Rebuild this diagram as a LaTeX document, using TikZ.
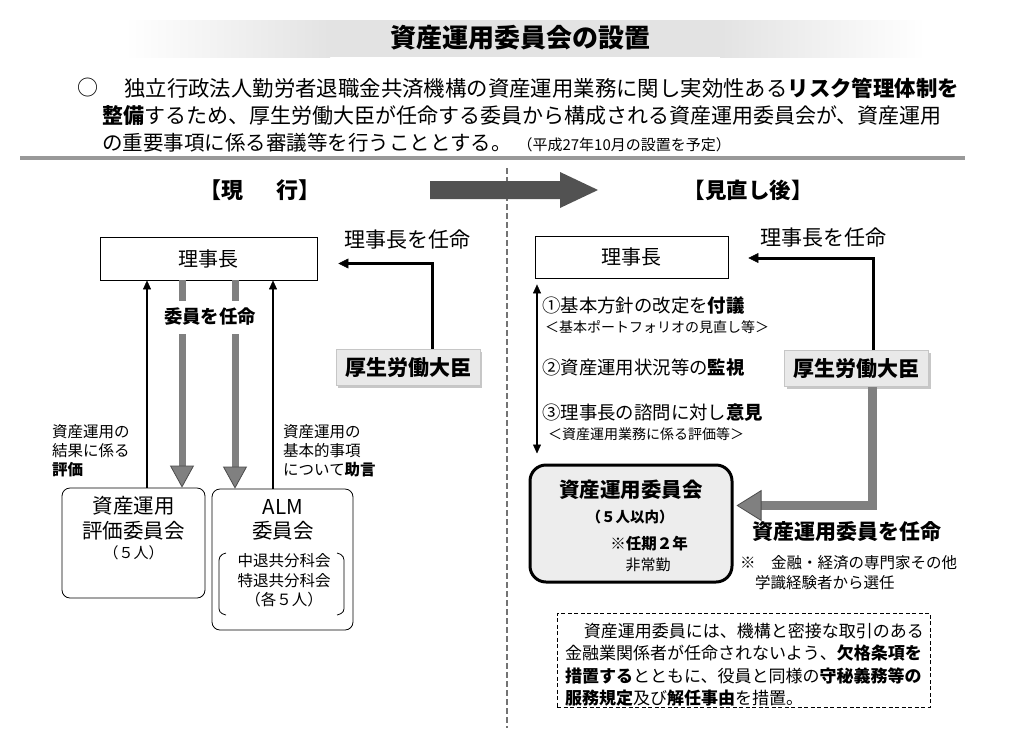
\documentclass[tikz,border=0pt]{standalone}
\usepackage{fontspec}
\setmainfont{Noto Sans CJK JP}
\usetikzlibrary{arrows.meta,shadows,calc}
\newcommand\fsz[2]{\fontsize{#1}{#2}\selectfont}
\begin{document}
\begin{tikzpicture}[x=1pt,y=-1pt,
  txt/.style={inner sep=0pt},
  plainbox/.style={draw, line width=0.8pt, inner sep=0pt},
  rbox/.style={draw, line width=0.8pt, rounded corners=8pt, inner sep=0pt},
  mhlw/.style={draw=gray!45, fill=gray!17, line width=0.6pt, minimum width=144pt, minimum height=36pt, inner sep=0pt, font=\fsz{21}{24}\bfseries, drop shadow={shadow xshift=2pt, shadow yshift=-2pt, fill=gray!55, opacity=0.8}},
  commbox/.style={draw, line width=3pt, rounded corners=16pt, fill=gray!14, inner sep=0pt},
  notebox/.style={draw, line width=1pt, dash pattern=on 4pt off 2.5pt, inner sep=0pt},
  fatarrow/.style={line width=7pt, draw=black!50, -{Triangle[length=22pt,width=24pt,line width=0.8pt, fill=black!50, color=black!70]}},
  fatarrowB/.style={line width=9pt, draw=black!50, -{Triangle[length=25pt,width=31pt,line width=0.8pt, fill=black!50, color=black!70]}},
  apparrow/.style={line width=3pt, -{Triangle[length=10pt,width=10pt,line width=0.5pt]}},
  uparrow/.style={line width=1.8pt, -{Triangle[length=9pt,width=8pt,line width=0.5pt]}},
  dblarrow/.style={line width=1.8pt, {Triangle[length=9pt,width=8pt,line width=0.5pt]}-{Triangle[length=9pt,width=8pt,line width=0.5pt]}},
]
\useasboundingbox (0,0) rectangle (1035,728);

% title band
\shade[left color=white, right color=gray!22] (125,20) rectangle (330,57);
\fill[gray!22] (330,20) rectangle (720,57);
\shade[left color=gray!22, right color=white] (720,20) rectangle (925,57);
\node[txt, font=\fsz{26}{30}\bfseries] (title) at (520,38) {資産運用委員会の設置};

% intro paragraph
\node[txt, anchor=west, font=\fsz{21}{25}] (bullet) at (77,88) {○};
\node[txt, anchor=west, font=\fsz{21.4}{25}] (p1) at (124,88) {独立行政法人勤労者退職金共済機構の資産運用業務に関し実効性ある\textbf{リスク管理体制を}};
\node[txt, anchor=west, font=\fsz{21}{25}] (p2) at (102,116) {\textbf{整備}するため、厚生労働大臣が任命する委員から構成される資産運用委員会が、資産運用};
\node[txt, anchor=base west, font=\fsz{20.5}{25}] (p3) at (102,150) {の重要事項に係る審議等を行うこととする。\hspace{6pt}{\fsz{15}{18}（平成27年10月の設置を予定）}};

% separators
\draw[black!40, line width=3.5pt] (20,158) -- (965,158);
\draw[black!55, line width=1.5pt, dash pattern=on 6pt off 3pt] (507,168) -- (507,728);

% headers
\node[txt, font=\fsz{22}{26}\bfseries] (hleft) at (260,190) {【現\hspace{1.5em}行】};
\node[txt, font=\fsz{21.5}{26}\bfseries] (hright) at (748,190) {【見直し後】};
\fill[black!68] (430,181) -- (560,181) -- (560,172) -- (598,190) -- (560,208) -- (560,199) -- (430,199) -- cycle;

% ---------- left ----------
\node[plainbox, minimum width=217pt, minimum height=43pt, font=\fsz{20}{24}] (r1) at (208.5,258.5) {理事長};
\node[txt, anchor=west, font=\fsz{21}{25}] (ap1) at (344,240) {理事長を任命};
\node[mhlw] (m1) at (408,367.5) {厚生労働大臣};
\node[rbox, minimum width=143pt, minimum height=110pt] (eval) at (133.5,543) {};
\node[rbox, minimum width=141pt, minimum height=141pt] (alm) at (282.5,559.5) {};

\node[txt, font=\fsz{20.5}{24}] (ev1) at (133.5,506) {資産運用};
\node[txt, font=\fsz{20.5}{24}] (ev2) at (133.5,531) {評価委員会};
\node[txt, font=\fsz{15}{18}] (ev3) at (133.5,553) {（５人）};

\node[txt, font=\fsz{20.5}{24}] (al1) at (283,507) {ALM};
\node[txt, font=\fsz{20.5}{24}] (al2) at (283,531) {委員会};
\node[txt, font=\fsz{15.5}{18}] (al3) at (284,561) {中退共分科会};
\node[txt, font=\fsz{15.5}{18}] (al4) at (284,581) {特退共分科会};
\node[txt, font=\fsz{15.5}{18}] (al5) at (284,600) {（各５人）};
\draw[line width=0.8pt] (226,553) .. controls (219,555) and (219,558) .. (219,563) -- (219,606) .. controls (219,611) and (219,613) .. (226,615);
\draw[line width=0.8pt] (337,553) .. controls (344,555) and (344,558) .. (344,563) -- (344,606) .. controls (344,611) and (344,613) .. (337,615);

\draw[apparrow, shorten >=21pt] ([xshift=24pt]m1.north) |- ([yshift=-5pt]r1.east);

\coordinate (xa) at (182,0);
\coordinate (xb) at (235,0);
\draw[fatarrow] (xa |- r1.south) -- (xa |- eval.north);
\draw[fatarrow] (xb |- r1.south) -- (xb |- alm.north);
\node[txt, fill=white, minimum height=33pt, font=\fsz{18.4}{22}\bfseries] (iin) at (210,317) {委員を任命};

\coordinate (xc) at (147,0);
\coordinate (xd) at (273,0);
\draw[uparrow] (xc |- eval.north) -- (xc |- r1.south);
\draw[uparrow] (xd |- alm.north) -- (xd |- r1.south);

\node[txt, anchor=north west, align=left, font=\fsz{15.5}{19}] (lab1) at (52,424) {資産運用の\\結果に係る\\\textbf{評価}};
\node[txt, anchor=north west, align=left, font=\fsz{15.5}{19}] (lab2) at (283,424) {資産運用の\\基本的事項\\について\textbf{助言}};

% ---------- right ----------
\node[plainbox, minimum width=193pt, minimum height=42pt, font=\fsz{20}{24}] (r2) at (631.5,257) {理事長};
\node[txt, anchor=west, font=\fsz{21}{25}] (ap2) at (760,238) {理事長を任命};
\node[mhlw] (m2) at (856.5,368.5) {厚生労働大臣};
\node[commbox, minimum width=202pt, minimum height=117pt] (comm) at (631,523.5) {};
\node[notebox, minimum width=373pt, minimum height=94pt] (note) at (743.5,660) {};

\draw[apparrow, shorten >=20pt] ([xshift=17pt]m2.north) |- ([yshift=-1pt]r2.east);
\draw[fatarrowB, shorten >=3pt] ([xshift=16pt]m2.south) |- ([yshift=18pt]comm.east);

\coordinate (xe) at (537,0);
\draw[dblarrow, shorten <=6pt, shorten >=10pt] (xe |- r2.south) -- (xe |- comm.north);

\node[txt, anchor=west, font=\fsz{18.4}{22}] (f1) at (542,306) {①基本方針の改定を\textbf{付議}};
\node[txt, anchor=west, font=\fsz{14}{17}] (f1s) at (545,327) {＜基本ポートフォリオの見直し等＞};
\node[txt, anchor=west, font=\fsz{18.4}{22}] (f2) at (542,368) {②資産運用状況等の\textbf{監視}};
\node[txt, anchor=west, font=\fsz{18.4}{22}] (f3) at (542,413) {③理事長の諮問に対し\textbf{意見}};
\node[txt, anchor=west, font=\fsz{14}{17}] (f3s) at (548,434) {＜資産運用業務に係る評価等＞};

\node[txt, font=\fsz{20.5}{24}\bfseries] (c1) at (631,490) {資産運用委員会};
\node[txt, font=\fsz{14.5}{18}\bfseries] (c2) at (630,517) {（５人以内）};
\node[txt, font=\fsz{15.5}{18}\bfseries] (c3) at (649,544) {※任期２年};
\node[txt, font=\fsz{15}{18}] (c4) at (648,565) {非常勤};

\node[txt, anchor=west, font=\fsz{21}{25}\bfseries] (sen) at (752,532) {資産運用委員を任命};
\node[txt, anchor=west, font=\fsz{15.5}{18}] (sel1) at (740,563) {※\hspace{1em}金融・経済の専門家その他};
\node[txt, anchor=west, font=\fsz{15.5}{18}] (sel2) at (755,583) {学識経験者から選任};

\node[txt, anchor=north west, align=left, font=\fsz{17}{22.5}] (notetxt) at (565,623) {\hspace{1.1em}資産運用委員には、機構と密接な取引のある\\金融業関係者が任命されないよう、\textbf{欠格条項を}\\\textbf{措置する}とともに、役員と同様の\textbf{守秘義務等の}\\\textbf{服務規定}及び\textbf{解任事由}を措置。};
\end{tikzpicture}
\end{document}
